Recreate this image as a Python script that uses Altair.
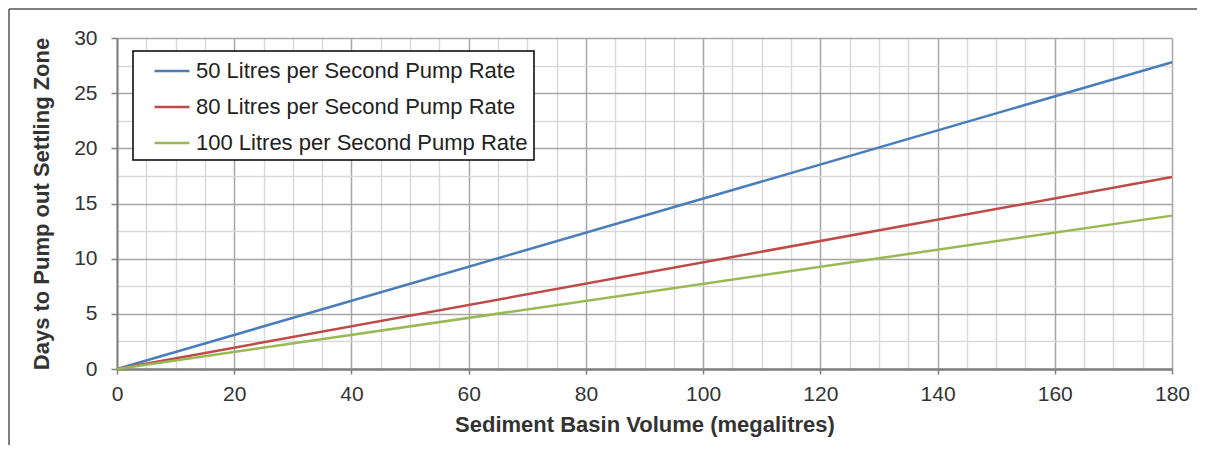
import altair as alt
import pandas as pd

# Data
volume = [0, 180]
rate_50 = [0, 27.8]
rate_80 = [0, 17.4]
rate_100 = [0, 13.9]
series_names = [
    "50 Litres per Second Pump Rate",
    "80 Litres per Second Pump Rate",
    "100 Litres per Second Pump Rate",
]
series_colors = ["#4a7ebb", "#be4b48", "#98b954"]
x_ticks = list(range(0, 181, 5))
y_ticks = [i * 2.5 for i in range(13)]

rows = []
for name, vals in zip(series_names, [rate_50, rate_80, rate_100]):
    for v, d in zip(volume, vals):
        rows.append({"series": name, "volume": v, "days": d})
df = pd.DataFrame(rows)

FONT = "Liberation Sans"

x_axis = alt.Axis(
    values=x_ticks,
    labelExpr="datum.value % 20 === 0 ? datum.label : ''",
    grid=True,
    gridColor={"condition": {"test": "datum.value % 20 === 0", "value": "#a6a6a6"}, "value": "#d9d9d9"},
    gridWidth=1.5,
    tickOpacity={"condition": {"test": "datum.value % 20 === 0", "value": 1}, "value": 0},
    tickColor="#808080",
    tickSize=5,
    tickWidth=1.5,
    domainColor="#808080",
    domainWidth=2.5,
    labelFont=FONT,
    labelFontSize=21,
    labelColor="#333333",
    labelPadding=9,
    labelFlush=False,
    title="Sediment Basin Volume (megalitres)",
    titleFont=FONT,
    titleFontSize=22,
    titleFontWeight="bold",
    titleColor="#333333",
    titlePadding=10,
)

y_axis = alt.Axis(
    values=y_ticks,
    labelExpr="datum.value % 5 === 0 ? datum.label : ''",
    grid=True,
    gridColor={"condition": {"test": "datum.value % 5 === 0", "value": "#a6a6a6"}, "value": "#d9d9d9"},
    gridWidth=1.5,
    tickOpacity={"condition": {"test": "datum.value % 5 === 0", "value": 1}, "value": 0},
    tickColor="#808080",
    tickSize=6,
    tickWidth=1.5,
    domainColor="#808080",
    domainWidth=2,
    labelFont=FONT,
    labelFontSize=21,
    labelColor="#333333",
    labelPadding=14,
    labelFlush=False,
    title="Days to Pump out Settling Zone",
    titleFont=FONT,
    titleFontSize=22,
    titleFontWeight="bold",
    titleColor="#333333",
    titlePadding=20,
)

lines = alt.Chart(df).mark_line(strokeWidth=2.5).encode(
    x=alt.X("volume:Q", scale=alt.Scale(domain=[0, 180], nice=False, zero=True), axis=x_axis),
    y=alt.Y("days:Q", scale=alt.Scale(domain=[0, 30], nice=False), axis=y_axis),
    color=alt.Color(
        "series:N",
        sort=series_names,
        scale=alt.Scale(domain=series_names, range=series_colors),
        legend=alt.Legend(
            title=None,
            orient="none",
            legendX=16,
            legendY=13,
            fillColor="white",
            strokeColor="#000000",
            padding=6,
            cornerRadius=0,
            symbolType="M -1.4 0 L 1.4 0",
            symbolSize=625,
            symbolStrokeWidth=2.5,
            symbolOffset=19,
            labelOffset=10,
            labelFont=FONT,
            labelFontSize=22,
            labelColor="#222222",
            labelLimit=600,
            rowPadding=11,
        ),
    ),
    order=alt.Order("volume:Q"),
)

dummy = pd.DataFrame({"k": [0]})
frame_top = alt.Chart(dummy).mark_rule(color="#555555", strokeWidth=1.5).encode(
    x=alt.value(-108), x2=alt.value(1080), y=alt.value(-29), y2=alt.value(-29)
)
frame_left = alt.Chart(dummy).mark_rule(color="#555555", strokeWidth=1.5).encode(
    x=alt.value(-108), x2=alt.value(-108), y=alt.value(-29), y2=alt.value(420)
)

chart = (
    alt.layer(lines, frame_top, frame_left)
    .properties(
        width=1055,
        height=331,
        padding={"left": 109, "top": 30, "right": 30, "bottom": 76},
        autosize=alt.AutoSizeParams(type="none"),
        background="white",
    )
    .configure_view(stroke=None)
    .configure_legend(strokeWidth=1.5)
)

chart.save("out.html", embed_options={"renderer": "svg", "actions": False})
